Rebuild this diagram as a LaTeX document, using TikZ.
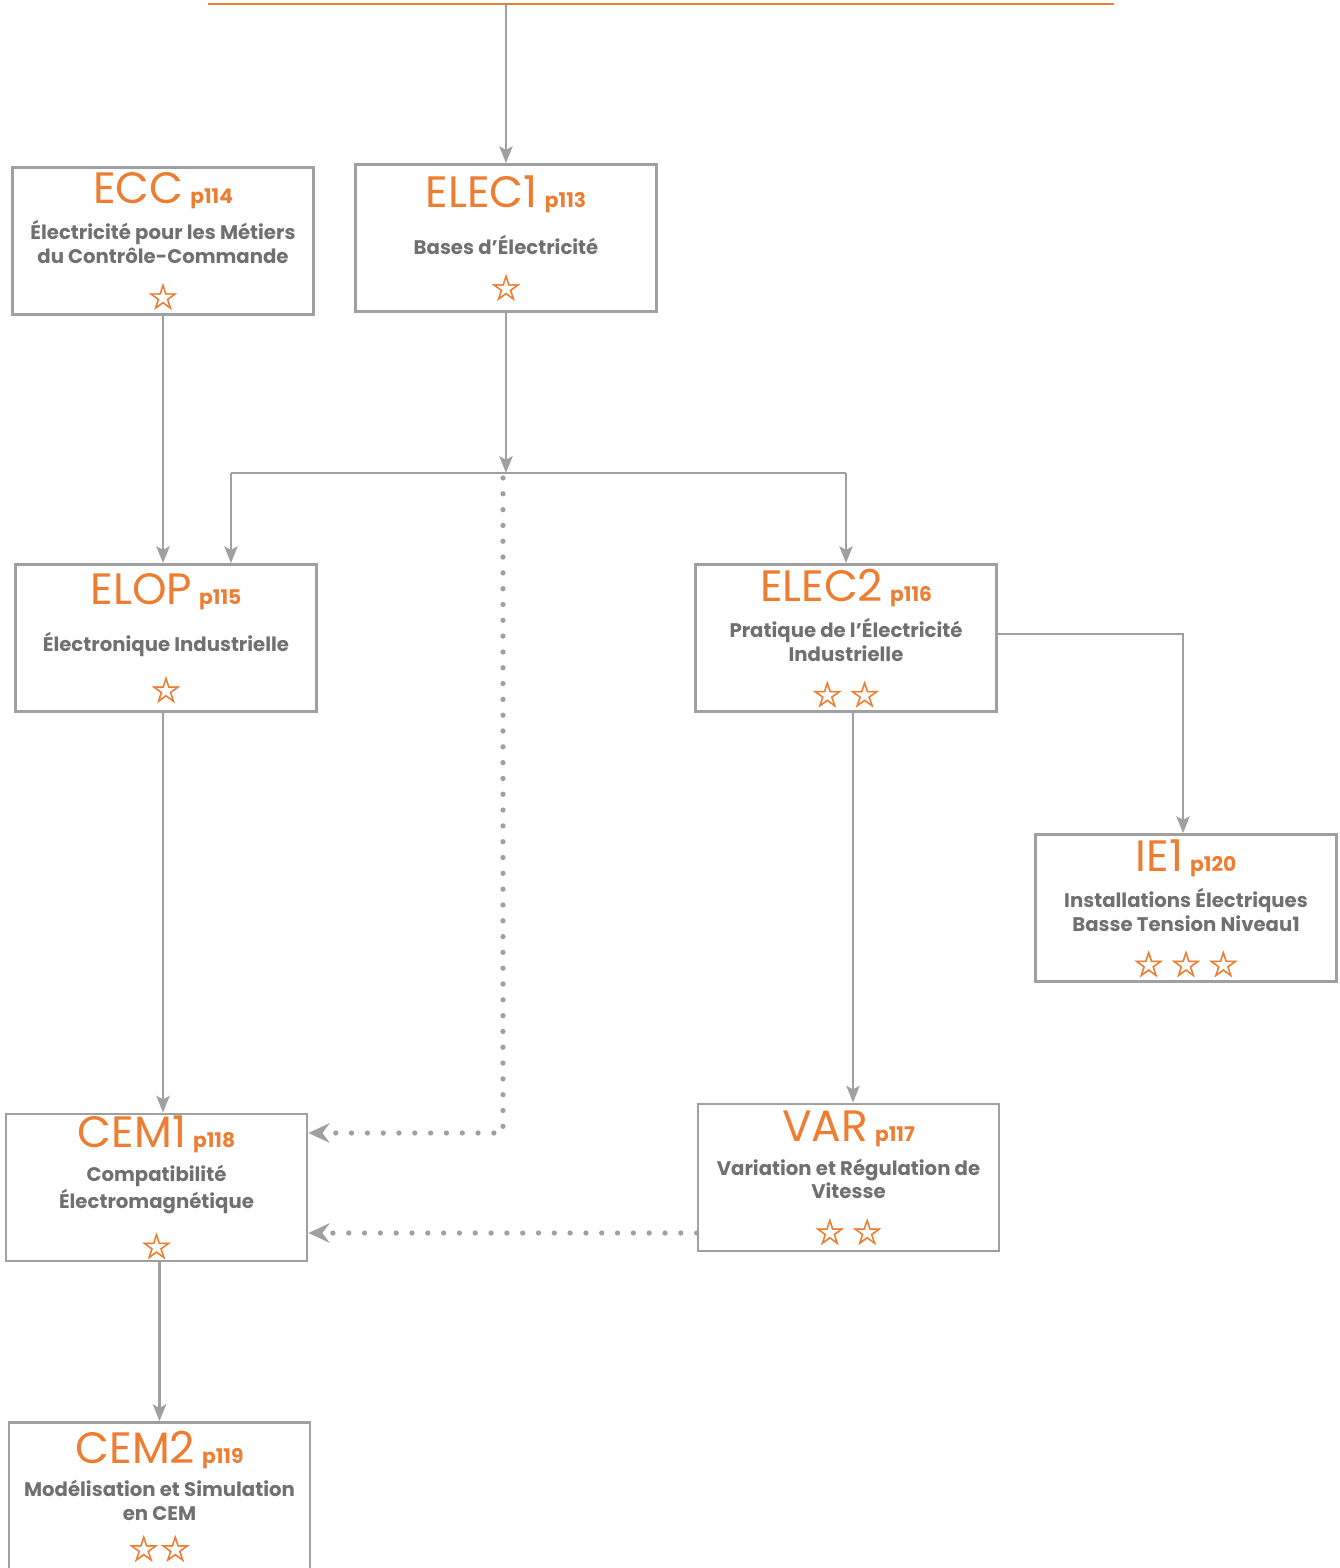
\documentclass[tikz,border=0pt]{standalone}
\usepackage{fontspec}
\setmainfont{Poppins}
\newfontfamily\starfont[FakeBold=1.5]{DejaVu Sans}
\usetikzlibrary{arrows.meta,positioning,calc}
\definecolor{accent}{RGB}{237,125,49}
\definecolor{linegray}{RGB}{160,160,160}
\definecolor{textgray}{RGB}{112,112,112}
\newcommand{\modtitle}[2]{{\mdseries\fontsize{25}{25}\selectfont\color{accent}#1}\hspace{4pt}{\fontsize{11.5}{12}\selectfont\bfseries\color{accent}#2}}
\newcommand{\modstars}[1]{{\starfont\fontsize{20}{20}\selectfont\color{accent}#1}}
\begin{document}
\begin{tikzpicture}[
x=0.02cm, y=-0.02cm,
module/.style={rectangle, draw=linegray, line width=1.6pt, minimum width=6.02cm, minimum height=2.94cm, inner sep=0pt, align=center, text=textgray, font=\fontsize{11.2}{13.6}\selectfont\bfseries},
link/.style={draw=linegray, line width=1.6pt, -{Stealth[length=9.5pt, width=7.5pt, inset=2pt]}},
dotlink/.style={draw=linegray, line width=3pt, line cap=round, dash pattern=on 0pt off 9pt, -{Stealth[length=12pt, width=11pt, inset=4pt]}}
]
\useasboundingbox (0,0) rectangle (1339,1568);
\draw[accent, line width=1.6pt] (208,4) -- (1114,4);

\node[module] (ecc) at (163,241) {\modtitle{ECC}{p114}\\[0.2cm] Électricité pour les Métiers\\du Contrôle-Commande\\[0.36cm]\modstars{☆}};
\node[module] (elec1) at (506,238) {\modtitle{ELEC1}{p113}\\[0.42cm] Bases d’Électricité\\[0.36cm]\modstars{☆}};
\node[module] (elop) at (166,638) {\modtitle{ELOP}{p115}\\[0.42cm] Électronique Industrielle\\[0.36cm]\modstars{☆}};
\node[module] (elec2) at (846,638) {\modtitle{ELEC2}{p116}\\[0.2cm] Pratique de l’Électricité\\Industrielle\\[0.36cm]\modstars{☆\,☆}};
\node[module] (ie1) at (1186,908) {\modtitle{IE1}{p120}\\[0.2cm] Installations Électriques\\Basse Tension Niveau1\\[0.36cm]\modstars{☆\,☆\,☆}};
\node[module] (cem1) at (156.5,1187.5) {\modtitle{CEM1}{p118}\\[0.2cm] Compatibilité\\Électromagnétique\\[0.36cm]\modstars{☆}};
\node[module] (var) at (848.5,1177.5) {\modtitle{VAR}{p117}\\[0.2cm] Variation et Régulation de\\Vitesse\\[0.36cm]\modstars{☆\,☆}};
\node[module] (cem2) at (159.5,1496) {\modtitle{CEM2}{p119}\\[0.2cm] Modélisation et Simulation\\en CEM\\[0.26cm]\modstars{☆☆}};

\coordinate (top) at (506,4);
\coordinate (split) at (506,473);
\coordinate (splitl) at (231,473);
\coordinate (splitr) at (elec2.north |- split);
\coordinate (dotstart) at (503,478);
\coordinate (dotbend) at (503,1133);
\coordinate (iebend) at (1183,634);
\coordinate (varlink) at (853,713);

\draw[link] (top) -- (elec1);
\draw[link] (elec1) -- (split);
\draw[draw=linegray, line width=1.6pt] (splitl) -- (splitr);
\draw[link] (splitl) -- (splitl |- elop.north);
\draw[link] (splitr) -- (elec2);
\draw[link] (ecc) -- (ecc.south |- elop.north);
\draw[link] (ecc.south |- elop.south) -- (ecc.south |- cem1.north);
\draw[link] (elec2.east |- iebend) -- (iebend) -- (iebend |- ie1.north);
\draw[link] (varlink) -- (varlink |- var.north);
\draw[link] (cem2.north |- cem1.south) -- (cem2);
\draw[dotlink] (dotstart) -- (dotbend) -- (dotbend -| cem1.east);
\draw[dotlink] (var.west |- 0,1233) -- (cem1.east |- 0,1233);
\end{tikzpicture}
\end{document}
